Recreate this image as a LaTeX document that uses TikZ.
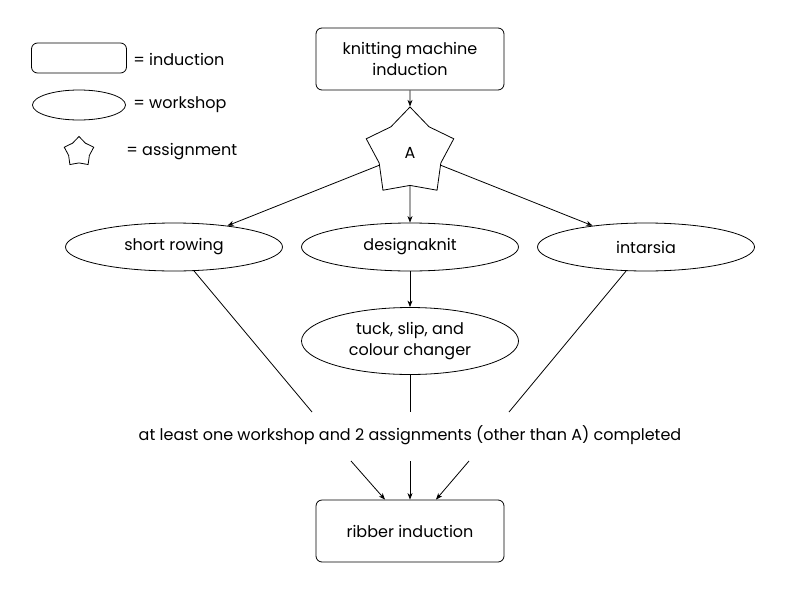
\documentclass[tikz,border=0pt]{standalone}
\usepackage{fontspec}
\setmainfont{Poppins}
\usepackage{tikz}
\usetikzlibrary{arrows,arrows.meta,shapes,positioning}

\begin{document}
\begin{tikzpicture}[
	x=1pt, y=-1pt,
	induction/.style = {draw, rounded corners=6pt, align=center, minimum width=188pt, minimum height=62pt},
	workshop/.style  = {draw, ellipse, align=center, minimum width=217pt, minimum height=48pt, inner sep=0pt},
	assignment/.style = {draw, star, star points=5, star point ratio=1.42, minimum size=92pt, inner sep=0pt},
	legendtext/.style = {anchor=west, inner sep=0pt},
	line width=0.8pt,
	>={Stealth[length=6.5pt,width=5pt,inset=2pt]},
	font=\fontsize{16}{20.5}\selectfont]
	
	\useasboundingbox (0,0) rectangle (802,594);
	
	% legend
	\node[induction, minimum width=95pt, minimum height=30pt] (lind) at (79,58) {};
	\node[legendtext] (tind) at (133,59) {= induction};
	\node[workshop, minimum width=93pt, minimum height=30pt] (lwork) at (79,105) {};
	\node[legendtext] (twork) at (133,105) {= workshop};
	\node[assignment, minimum size=31pt] (lass) at (79,152) {};
	\node[legendtext] (tass) at (126,152) {= assignment};
	
	% inductions and the assignment
	\node[induction] (kmi) at (410,59) {knitting machine\\induction};
	\node[assignment] (A) at (410,153) {A};
	
	% workshops
	\node[workshop] (sr) at (174,247) {short rowing};
	\node[workshop] (dk) at (410,247) {designaknit};
	\node[workshop] (in) at (646,247) {intarsia};
	\node[workshop, minimum height=67pt] (tsc) at (410,341) {tuck, slip, and\\colour changer};
	
	% condition and the ribber
	\node (cond) at (410,435) {at least one workshop and 2 assignments (other than A) completed};
	\node[induction] (rib) at (410,531) {ribber induction};
	
	\coordinate (j1) at (312,412);
	\coordinate (j2) at (410,412);
	\coordinate (j3) at (509,412);
	\coordinate (k1) at (351,461);
	\coordinate (k2) at (410,461);
	\coordinate (k3) at (469,461);
	
	% connectors
	\draw[->] (kmi) -- (A);
	\foreach \target in {sr,dk,in}
	\draw[->] (A) -- (\target);
	\draw[->] (dk) -- (tsc);
	
	\draw (sr) -- (j1);
	\draw (tsc) -- (j2);
	\draw (in) -- (j3);
	
	\draw[->] (k1) -- (rib.north -| 385,0);
	\draw[->] (k2) -- (rib);
	\draw[->] (k3) -- (rib.north -| 436,0);
	
\end{tikzpicture}
\end{document}
